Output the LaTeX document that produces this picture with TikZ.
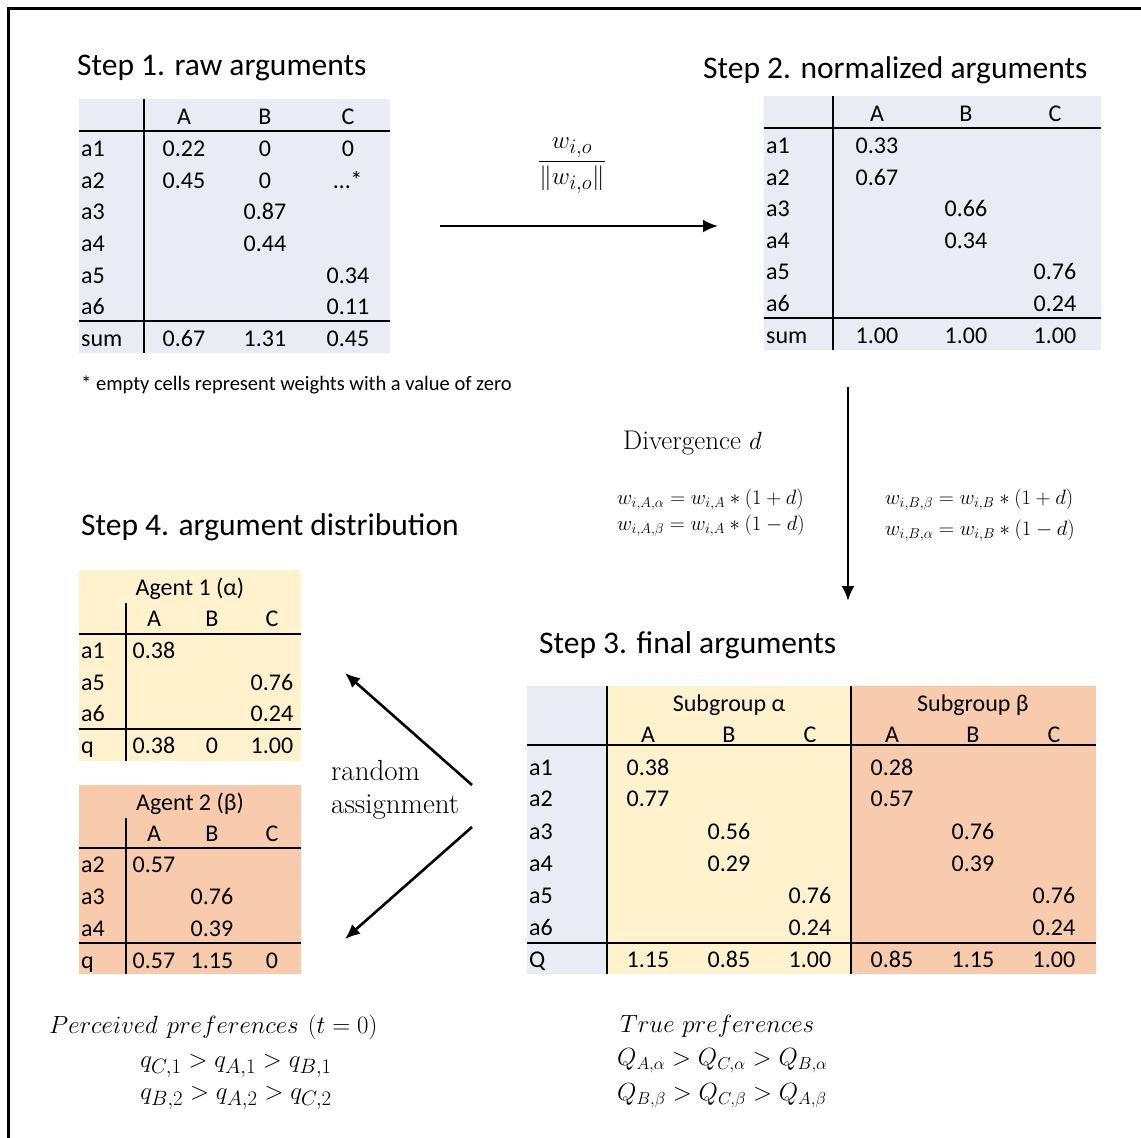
\documentclass[tikz,border=0pt]{standalone}
\usepackage{amsmath}
\usepackage{fontspec}
\usepackage{tikz}
\usetikzlibrary{arrows.meta,positioning}
\newfontfamily\tabfont{Carlito}
\definecolor{tabblue}{HTML}{E9EBF5}
\definecolor{alphayellow}{HTML}{FFF2CC}
\definecolor{betaorange}{HTML}{F8CBAD}

\begin{document}
\begin{tikzpicture}[x=1pt, y=-1pt,
    cell/.style={font=\tabfont\fontsize{24}{28}\selectfont, inner sep=0pt, text height=19pt, text depth=2pt},
    rowname/.style={cell, anchor=west},
    steptitle/.style={font=\tabfont\fontsize{31.5}{36}\selectfont, anchor=west, inner sep=0pt},
    tabrule/.style={line width=2.5pt},
    flow/.style={-{Latex[length=15pt,width=13pt]}, line width=2.6pt},
    serif/.style={font=\fontsize{29}{33}\selectfont, inner sep=0pt}]
  \useasboundingbox (0,0) rectangle (1141,1138);
  \draw[line width=3pt] (8,1138) -- (8,8) -- (1141,8);

  % step 1
  \node[steptitle] (title1) at (77,68) {Step 1. raw arguments};
  \fill[tabblue] (79,99) rectangle (390,353);
  \draw[tabrule] (144,99) -- (144,353);
  \draw[tabrule] (79,131) -- (390,131) (79,321) -- (390,321);
  \foreach \c/\x in {A/184,B/265,C/348}
    \node[cell] (raw-\c) at (\x,116) {\c};
  \foreach \r/\va/\vb/\vc/\y in {a1/0.22/0/0/148,a2/0.45/0/…*/180,a3//0.87//211,a4//0.44//243,a5///0.34/275,a6///0.11/306,sum/0.67/1.31/0.45/338} {
    \node[rowname] (raw-\r) at (81,\y) {\r};
    \node[cell] (raw-\r-A) at (184,\y) {\va};
    \node[cell] (raw-\r-B) at (265,\y) {\vb};
    \node[cell] (raw-\r-C) at (348,\y) {\vc};
  }
  \node[font=\tabfont\fontsize{20.5}{24}\selectfont, anchor=west, inner sep=0pt] (note) at (81,385) {* empty cells represent weights with a value of zero};

  % normalisation
  \node[font=\fontsize{29}{33}\selectfont, inner sep=0pt] (norm) at (572,166) {$\displaystyle\frac{w_{i,o}}{\lVert w_{i,o}\rVert}$};
  \coordinate (norm-in) at (440,226);
  \coordinate (norm-out) at (718,226);
  \draw[flow] (norm-in) -- (norm-out);

  % step 2
  \node[steptitle] (title2) at (703,70) {Step 2. normalized arguments};
  \fill[tabblue] (764,96) rectangle (1101,350);
  \draw[tabrule] (833,96) -- (833,350);
  \draw[tabrule] (764,128) -- (1101,128) (764,318) -- (1101,318);
  \foreach \c/\x in {A/877,B/966,C/1055}
    \node[cell] (nrm-\c) at (\x,113) {\c};
  \foreach \r/\va/\vb/\vc/\y in {a1/0.33///145,a2/0.67///177,a3//0.66//208,a4//0.34//240,a5///0.76/271,a6///0.24/303,sum/1.00/1.00/1.00/335} {
    \node[rowname] (nrm-\r) at (766,\y) {\r};
    \node[cell] (nrm-\r-A) at (877,\y) {\va};
    \node[cell] (nrm-\r-B) at (966,\y) {\vb};
    \node[cell] (nrm-\r-C) at (1055,\y) {\vc};
  }

  % divergence
  \coordinate (div-in) at (848,387);
  \coordinate (div-out) at (848,601);
  \draw[flow] (div-in) -- (div-out);
  \node[serif, font=\fontsize{27}{33}\selectfont, anchor=west] (div) at (623,443) {Divergence $d$};
  \node[font=\fontsize{20.5}{26}\selectfont, align=left, anchor=west, inner sep=0pt] (splitA) at (617,513) {$w_{i,A,\alpha} = w_{i,A} * (1+d)$\\$w_{i,A,\beta} = w_{i,A} * (1-d)$};
  \node[font=\fontsize{20.5}{31}\selectfont, align=left, anchor=west, inner sep=0pt] (splitB) at (885,515) {$w_{i,B,\beta} = w_{i,B} * (1+d)$\\$w_{i,B,\alpha} = w_{i,B} * (1-d)$};

  % step 3
  \node[steptitle] (title3) at (539,645) {Step 3. final arguments};
  \fill[tabblue] (527,686) rectangle (607,974);
  \fill[alphayellow] (607,686) rectangle (851,974);
  \fill[betaorange] (851,686) rectangle (1096,974);
  \draw[tabrule] (607,686) -- (607,974) (851,686) -- (851,974);
  \draw[tabrule] (527,745) -- (1096,745) (527,943) -- (1096,943);
  \node[cell] (sub-alpha) at (729,703) {Subgroup α};
  \node[cell] (sub-beta) at (973,703) {Subgroup β};
  \foreach \c/\xa/\xb in {A/648/892,B/729/973,C/810/1054} {
    \node[cell] (fin-\c-alpha) at (\xa,734) {\c};
    \node[cell] (fin-\c-beta) at (\xb,734) {\c};
  }
  \foreach \r/\aa/\ab/\ac/\ba/\bb/\bc/\y in {a1/0.38///0.28///767,a2/0.77///0.57///798,a3//0.56///0.76//831,a4//0.29///0.39//863,a5///0.76///0.76/895,a6///0.24///0.24/927,Q/1.15/0.85/1.00/0.85/1.15/1.00/959} {
    \node[rowname] (fin-\r) at (529,\y) {\r};
    \node[cell] (fin-\r-Aa) at (648,\y) {\aa};
    \node[cell] (fin-\r-Ba) at (729,\y) {\ab};
    \node[cell] (fin-\r-Ca) at (810,\y) {\ac};
    \node[cell] (fin-\r-Ab) at (892,\y) {\ba};
    \node[cell] (fin-\r-Bb) at (973,\y) {\bb};
    \node[cell] (fin-\r-Cb) at (1054,\y) {\bc};
  }

  % step 4
  \node[steptitle] (title4) at (81,527) {Step 4. argument distribution};
  \fill[alphayellow] (79,570) rectangle (301,761);
  \draw[tabrule] (126,603) -- (126,761);
  \draw[tabrule] (79,634) -- (301,634) (79,729) -- (301,729);
  \node[cell] (agent1) at (190,587) {Agent 1 (α)};
  \foreach \c/\x in {A/154,B/212,C/272}
    \node[cell] (ag1-\c) at (\x,618) {\c};
  \foreach \r/\va/\vb/\vc/\y in {a1/0.38///650,a5///0.76/682,a6///0.24/713,q/0.38/0/1.00/745} {
    \node[rowname] (ag1-\r) at (81,\y) {\r};
    \node[cell] (ag1-\r-A) at (154,\y) {\va};
    \node[cell] (ag1-\r-B) at (212,\y) {\vb};
    \node[cell] (ag1-\r-C) at (272,\y) {\vc};
  }
  \fill[betaorange] (79,785) rectangle (301,974);
  \draw[tabrule] (126,818) -- (126,974);
  \draw[tabrule] (79,848) -- (301,848) (79,943) -- (301,943);
  \node[cell] (agent2) at (190,802) {Agent 2 (β)};
  \foreach \c/\x in {A/154,B/212,C/272}
    \node[cell] (ag2-\c) at (\x,833) {\c};
  \foreach \r/\va/\vb/\vc/\y in {a2/0.57///864,a3//0.76//896,a4//0.39//928,q/0.57/1.15/0/960} {
    \node[rowname] (ag2-\r) at (81,\y) {\r};
    \node[cell] (ag2-\r-A) at (154,\y) {\va};
    \node[cell] (ag2-\r-B) at (212,\y) {\vb};
    \node[cell] (ag2-\r-C) at (272,\y) {\vc};
  }

  % random assignment
  \node[serif, anchor=west, align=left] (assign) at (331,790) {random\\assignment};
  \coordinate (to-ag1-in) at (472,785);
  \coordinate (to-ag1-out) at (345,673);
  \coordinate (to-ag2-in) at (472,827);
  \coordinate (to-ag2-out) at (345,939);
  \draw[flow] (to-ag1-in) -- (to-ag1-out);
  \draw[flow] (to-ag2-in) -- (to-ag2-out);

  % preferences
  \node[font=\fontsize{30}{32}\selectfont, anchor=west, inner sep=0pt] (perceived) at (49,1027) {$Perceived\ preferences\ (t = 0)$};
  \node[font=\fontsize{29.5}{32}\selectfont, align=center, inner sep=0pt] (perceivedq) at (236,1082) {$q_{C,1} > q_{A,1} > q_{B,1}$\\$q_{B,2} > q_{A,2} > q_{C,2}$};
  \node[font=\fontsize{26}{34}\selectfont, anchor=west, inner sep=0pt] (truepref) at (620,1026) {$True\ preferences$};
  \node[font=\fontsize{26.5}{35}\selectfont, align=left, anchor=west, inner sep=0pt] (trueq) at (617,1078) {$Q_{A,\alpha} > Q_{C,\alpha} > Q_{B,\alpha}$\\$Q_{B,\beta} > Q_{C,\beta} > Q_{A,\beta}$};
\end{tikzpicture}
\end{document}
